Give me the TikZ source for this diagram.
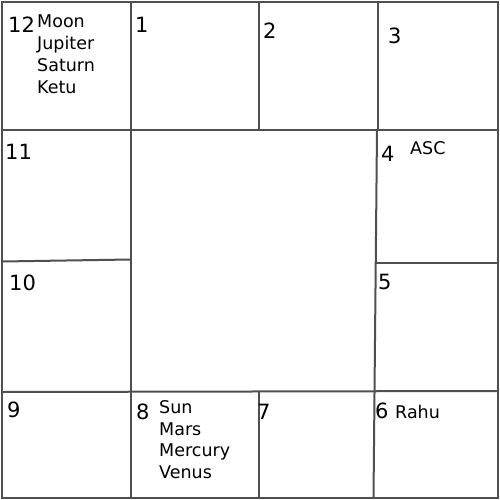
\documentclass[tikz,border=0pt]{standalone}
\usepackage{fontspec}
\setmainfont{DejaVu Sans}
\definecolor{gridgray}{HTML}{4F4F4F}
\begin{document}
\begin{tikzpicture}[x=1pt,y=-1pt,
  grid/.style={draw=gridgray,line width=2pt},
  num/.style={anchor=base west,inner sep=0pt,font=\fontsize{21}{21}\selectfont},
  planet/.style={anchor=base west,inner sep=0pt,font=\fontsize{17.5}{22}\selectfont,align=left}]
\useasboundingbox[fill=white] (0,0) rectangle (500,500);
% grid
\draw[grid] (2,2) rectangle (498,498);
\draw[grid] (130.5,2) -- (130.5,498);
\draw[grid] (259,2) -- (259,130);
\draw[grid] (378,2) -- (378,130);
\draw[grid] (2,130) -- (498,130);
\draw[grid] (2,261.5) -- (130.5,259.5);
\draw[grid] (377,130) -- (373.5,498);
\draw[grid] (375.5,262.5) -- (498,262.5);
\draw[grid] (2,392) -- (498,391);
\draw[grid] (259,392) -- (259,498);
% house numbers
\node[num] (h12) at (8,33) {12};
\node[num] (h1) at (135,33) {1};
\node[num] (h2) at (263,39) {2};
\node[num] (h3) at (388,44) {3};
\node[num] (h11) at (5,159) {11};
\node[num] (h4) at (381,161) {4};
\node[num] (h10) at (9,290) {10};
\node[num] (h5) at (378,289) {5};
\node[num] (h9) at (7,417) {9};
\node[num] (h8) at (136,419) {8};
\node[num] (h7) at (257,419) {7};
\node[num] (h6) at (375,418) {6};
% planets
\node[planet] (p12a) at (37,28) {Moon};
\node[planet] (p12b) at (37,50) {Jupiter};
\node[planet] (p12c) at (37,72) {Saturn};
\node[planet] (p12d) at (37,94) {Ketu};
\node[planet] (asc) at (410,154) {ASC};
\node[planet] (p8a) at (159,413) {Sun};
\node[planet] (p8b) at (159,435) {Mars};
\node[planet] (p8c) at (159,456.5) {Mercury};
\node[planet] (p8d) at (159,478) {Venus};
\node[planet] (p6) at (395,418) {Rahu};
\end{tikzpicture}
\end{document}
